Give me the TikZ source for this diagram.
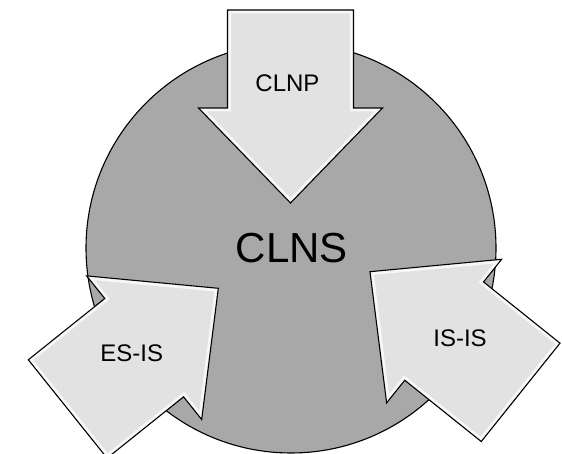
\documentclass[tikz,border=0pt]{standalone}
\usepackage{fontspec}
\setmainfont{Liberation Sans}
\definecolor{circgray}{RGB}{168,168,168}
\definecolor{arrowgray}{RGB}{226,226,226}
\tikzset{
  lbl/.style={font=\fontsize{24}{28}\selectfont, inner sep=0pt, text=black},
  biglbl/.style={font=\fontsize{42}{48}\selectfont, inner sep=0pt, text=black},
  outline/.style={draw=black, line width=1.1pt, line join=miter},
}
\newcommand\bigarrow[2]{%
  \begin{scope}[shift={#1}, rotate=#2]
    \fill[arrowgray] (0,0) -- (-95,92) -- (-95,63) -- (-193,63) -- (-193,-63) -- (-95,-63) -- (-95,-92) -- cycle;
    \begin{scope}
      \clip (0,0) -- (-95,92) -- (-95,63) -- (-193,63) -- (-193,-63) -- (-95,-63) -- (-95,-92) -- cycle;
      \draw[white, line width=7pt, opacity=0.75, line join=miter] (0,0) -- (-95,92) -- (-95,63) -- (-193,63) -- (-193,-63) -- (-95,-63) -- (-95,-92) -- cycle;
    \end{scope}
    \draw[outline] (0,0) -- (-95,92) -- (-95,63) -- (-193,63) -- (-193,-63) -- (-95,-63) -- (-95,-92) -- cycle;
  \end{scope}}
\begin{document}
\begin{tikzpicture}[x=1pt,y=1pt]
  \useasboundingbox (0,0) rectangle (562,454);
  \clip (0,0) rectangle (562,454);
  \fill[white] (0,0) rectangle (562,454);
  % circle
  \node[circle, fill=circgray, outline, minimum size=410pt, inner sep=0pt] (clns) at (291,206) {};
  % arrows
  \bigarrow{(290.5,251)}{-90}
  \bigarrow{(218.3,165.7)}{38.7}
  \bigarrow{(370,182.3)}{141.3}
  % labels
  \node[biglbl] (clnstext) at (291.7,205.7) {CLNS};
  \node[lbl] (clnp) at (287.5,370.7) {CLNP};
  \node[lbl] (esis) at (131.7,100.7) {ES-IS};
  \node[lbl] (isis) at (460,115.7) {IS-IS};
\end{tikzpicture}
\end{document}
